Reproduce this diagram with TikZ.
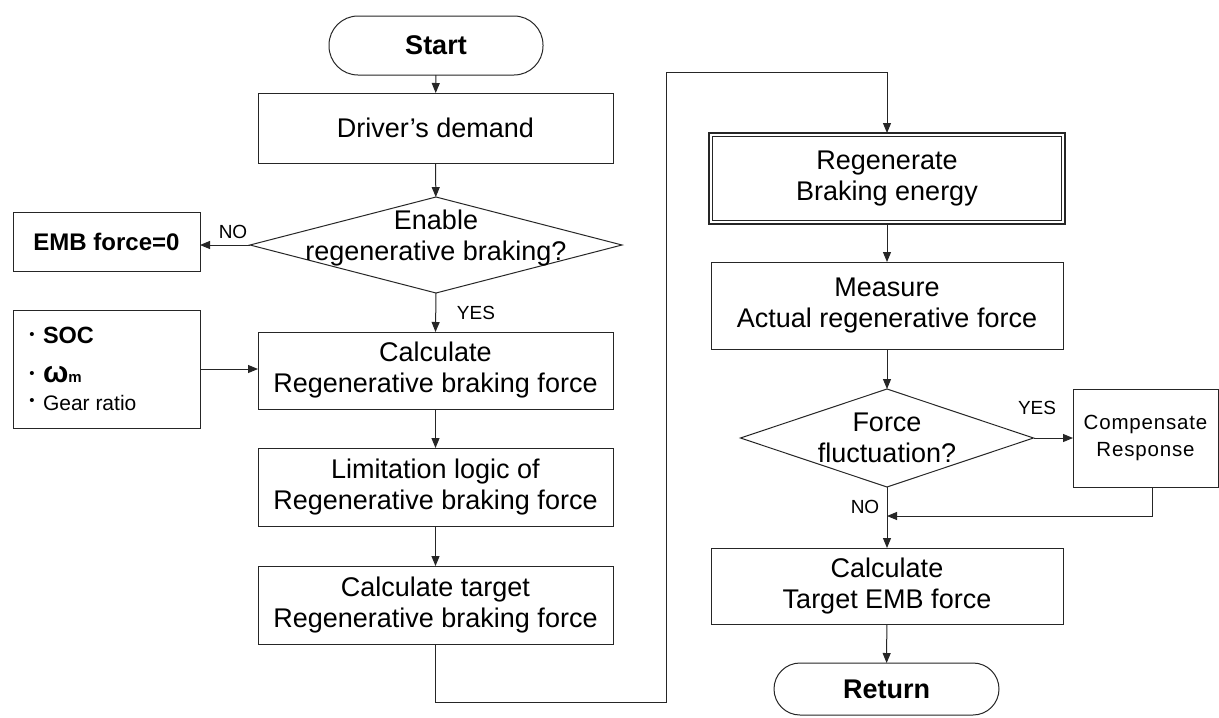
\documentclass[tikz,border=0pt]{standalone}
\usepackage{fontspec}
\setmainfont{Liberation Sans}
\usetikzlibrary{shapes.geometric,arrows.meta}
\begin{document}
\begin{tikzpicture}[x=1pt,y=-1pt,
  every node/.style={inner sep=0pt, outer sep=0pt},
  ln/.style={draw=black!85, line width=1pt},
  proc/.style={ln, rectangle, fill=white, align=center, font=\fontsize{27}{31}\selectfont},
  term/.style={ln, rectangle, fill=white, font=\bfseries\fontsize{27}{31}\selectfont},
  dec/.style={ln, diamond, fill=white},
  dtxt/.style={align=center, font=\fontsize{27}{31}\selectfont},
  lbl/.style={font=\fontsize{19}{21}\selectfont},
  bul/.style={font=\fontsize{15}{15}\selectfont},
  arr/.style={ln, -{Triangle[length=10pt,width=8pt]}}
]
\fill[white] (0,0) rectangle (1219,718);
\useasboundingbox (0,0) rectangle (1219,718);

% left column
\node[term, minimum width=214pt, minimum height=59pt, rounded corners=29pt] (start) at (436,45.5) {Start};
\node[proc, minimum width=355pt, minimum height=70pt] (drv) at (435.5,128) {Driver’s demand};
\node[dec, minimum width=372pt, minimum height=96pt] (d1) at (436,245) {};
\node[dtxt] (d1t) at (436,238) {Enable\\regenerative braking?};
\node[proc, font=\bfseries\fontsize{24}{28}\selectfont, minimum width=187pt, minimum height=59pt] (emb) at (106.5,241.5) {EMB force=0};
\node[proc, minimum width=187pt, minimum height=118pt] (soc) at (106.5,369) {};
\node[bul] (b1) at (32,336) {•};
\node[bul] (b2) at (32,375) {•};
\node[bul] (b3) at (32,402) {•};
\node[anchor=base west, font=\bfseries\fontsize{23.5}{25}\selectfont] (soct) at (43,343) {SOC};
\node[anchor=base west, font=\bfseries\fontsize{30}{30}\selectfont] (omg) at (43,382) {ω{\fontsize{15}{15}\selectfont m}};
\node[anchor=base west, font=\fontsize{21}{23}\selectfont] (gear) at (43,410) {Gear ratio};
\node[proc, minimum width=355pt, minimum height=77pt] (calc) at (435.5,370.5) {Calculate\\Regenerative braking force};
\node[proc, minimum width=355pt, minimum height=78pt] (lim) at (435.5,487) {Limitation logic of\\Regenerative braking force};
\node[proc, minimum width=355pt, minimum height=78pt] (tgt) at (435.5,605) {Calculate target\\Regenerative braking force};

% right column
\node[proc, minimum width=356pt, minimum height=91pt, line width=1.8pt] (regen) at (887,178.5) {Regenerate\\Braking energy};
\draw[line width=0.8pt, draw=black!85] ([shift={(3.5pt,-3.5pt)}]regen.north west) rectangle ([shift={(-3.5pt,3.5pt)}]regen.south east);
\node[proc, minimum width=352pt, minimum height=87pt] (meas) at (887,305.5) {Measure\\Actual regenerative force};
\node[dec, minimum width=293pt, minimum height=98pt] (d2) at (887,438) {};
\node[dtxt] (d2t) at (887,438) {Force\\fluctuation?};
\node[proc, minimum width=145pt, minimum height=98pt, font=\fontsize{20.5}{27}\selectfont\addfontfeature{LetterSpace=4}] (comp) at (1145.5,438) {Compensate\\Response};
\node[proc, minimum width=352pt, minimum height=76pt] (tgtemb) at (887,586) {Calculate\\Target EMB force};
\node[term, minimum width=225pt, minimum height=52pt, rounded corners=26pt] (ret) at (886.5,689) {Return};

% connectors
\draw[arr] (start) -- (drv);
\draw[arr] (drv) -- (d1);
\draw[arr] (d1.west) -- (d1.west -| emb.east);
\node[lbl] (no1) at (233,232) {NO};
\draw[arr] (d1.south) -- (calc.north);
\node[lbl] (yes1) at (476,313) {YES};
\draw[arr] (soc.east) -- (soc.east -| calc.west);
\draw[arr] (calc) -- (lim);
\draw[arr] (lim) -- (tgt);
\coordinate (p1) at (666,702);
\coordinate (p2) at (666,72);
\draw[arr] (tgt.south) |- (p1) -- (p2) -| (regen.north);
\draw[arr] (regen) -- (meas);
\draw[arr] (meas) -- (d2);
\draw[arr] (d2.east) -- (comp.west);
\node[lbl] (yes2) at (1037,408) {YES};
\coordinate (j) at (887,516);
\draw[arr] ([xshift=6.5pt]comp.south) |- (j);
\draw[arr] (d2.south) -- (tgtemb.north);
\node[lbl] (no2) at (865,507) {NO};
\draw[arr] (tgtemb) -- (ret);
\end{tikzpicture}
\end{document}
